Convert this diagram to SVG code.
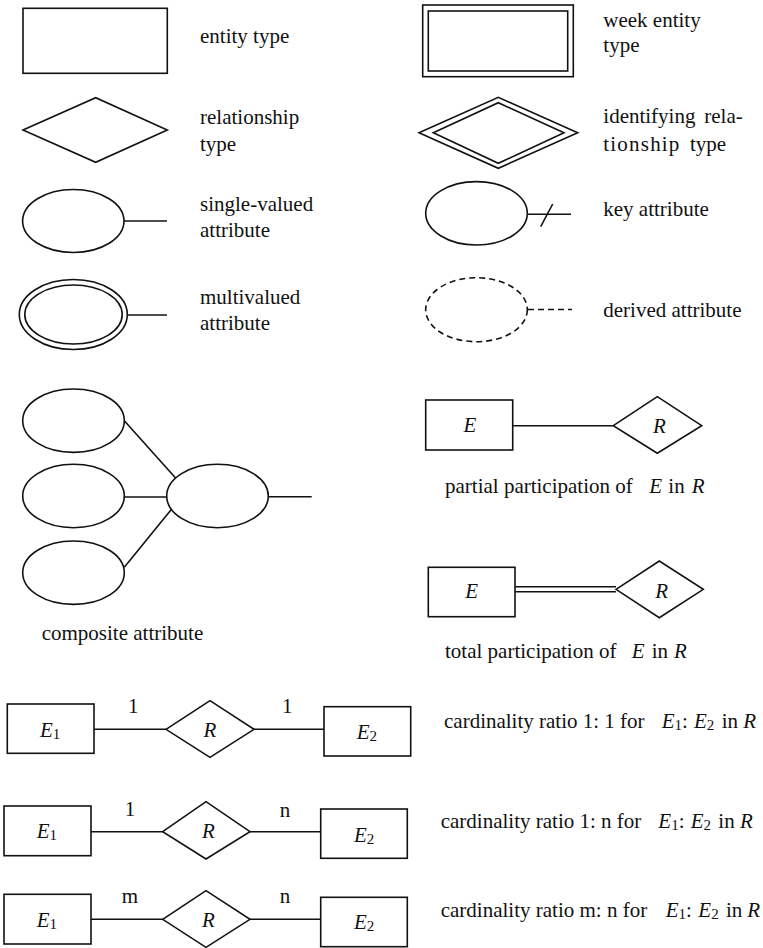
<svg xmlns="http://www.w3.org/2000/svg" width="763" height="948" viewBox="0 0 763 948">
<style>
.s{fill:none;stroke:#111;stroke-width:1.6}
.w{fill:#fff;stroke:#111;stroke-width:1.6}
.d{fill:none;stroke:#111;stroke-width:1.6;stroke-dasharray:6 4}
text{font-family:"Liberation Serif","Times New Roman",serif;font-size:21px;fill:#111}
.i{font-style:italic}
.sub{font-size:15px;font-style:normal}
.c{text-anchor:middle}
</style>
<rect width="763" height="948" fill="#fff"/>
<g id="connectors">
<line class="s" x1="124" y1="221" x2="167" y2="221"/>
<line class="s" x1="127" y1="315" x2="167" y2="315"/>
<line class="s" x1="527" y1="214.3" x2="571" y2="214.3"/>
<line class="s" x1="540.7" y1="226.7" x2="552.7" y2="204"/>
<line class="d" x1="528" y1="309.5" x2="572" y2="309.5"/>
<line class="s" x1="124.3" y1="420.7" x2="176.7" y2="479.3"/>
<line class="s" x1="124.3" y1="497" x2="166.7" y2="497"/>
<line class="s" x1="124.3" y1="567.3" x2="171.7" y2="509"/>
<line class="s" x1="268.3" y1="496.7" x2="311.7" y2="496.7"/>
<line class="s" x1="512.7" y1="425.7" x2="613.3" y2="425.7"/>
<line class="s" x1="515" y1="586.7" x2="616" y2="586.7"/>
<line class="s" x1="515" y1="591.7" x2="616" y2="591.7"/>
<line class="s" x1="94" y1="729.3" x2="166" y2="729.3"/>
<line class="s" x1="254" y1="729.3" x2="324" y2="729.3"/>
<line class="s" x1="91" y1="831.7" x2="162.7" y2="831.7"/>
<line class="s" x1="250" y1="831.7" x2="320.7" y2="831.7"/>
<line class="s" x1="91" y1="919.3" x2="162.7" y2="919.3"/>
<line class="s" x1="250" y1="919.3" x2="320.7" y2="919.3"/>
</g>
<g id="legend-entity">
<rect class="w" x="23" y="8.3" width="144.3" height="65"/>
<text x="200" y="43.3">entity type</text>
</g>
<g id="legend-relationship">
<polygon class="w" points="23,130 95.7,97.7 167.3,130 95.7,162.3"/>
<text x="200" y="124">relationship</text>
<text x="200" y="150.7">type</text>
</g>
<g id="legend-single">
<ellipse class="w" cx="73.3" cy="221" rx="50.7" ry="31.5"/>
<text x="200" y="211">single-valued</text>
<text x="200" y="237">attribute</text>
</g>
<g id="legend-multi">
<ellipse class="w" cx="73.3" cy="314.5" rx="54" ry="35"/>
<ellipse class="s" cx="73.5" cy="314.5" rx="48.7" ry="29.5"/>
<text x="200" y="304">multivalued</text>
<text x="200" y="330">attribute</text>
</g>
<g id="legend-weak">
<rect class="w" x="422.7" y="5" width="150.6" height="71.7"/>
<rect class="s" x="428.3" y="11" width="139.4" height="60"/>
<text x="603.3" y="26.7">week entity</text>
<text x="603.3" y="52.3">type</text>
</g>
<g id="legend-identifying">
<polygon class="w" points="419,132.7 498.3,97.3 577.7,132.7 498.3,168.3"/>
<polygon class="s" points="433.3,132.7 498.3,102.7 564,132.7 498.3,163.3"/>
<text x="603.3" y="123.3">identifying</text>
<text x="704.3" y="123.3">rela-</text>
<text x="603.3" y="150.7" letter-spacing="1.2">tionship</text>
<text x="690" y="150.7">type</text>
</g>
<g id="legend-key">
<ellipse class="w" cx="476.5" cy="213.3" rx="50.8" ry="31.7"/>
<text x="603.3" y="216">key attribute</text>
</g>
<g id="legend-derived">
<ellipse class="d" cx="476.5" cy="309.7" rx="50.8" ry="32"/>
<text x="603.3" y="316.7">derived attribute</text>
</g>
<g id="composite-a"><ellipse class="w" cx="73.5" cy="420.7" rx="50.8" ry="31.7"/></g>
<g id="composite-b"><ellipse class="w" cx="73.5" cy="496" rx="50.8" ry="31.7"/></g>
<g id="composite-c"><ellipse class="w" cx="73.5" cy="572.7" rx="50.8" ry="31.7"/></g>
<g id="composite-main">
<ellipse class="w" cx="217.5" cy="496" rx="50.8" ry="31.7"/>
<text x="41.7" y="640">composite attribute</text>
</g>
<g id="partial-E">
<rect class="w" x="425.7" y="400" width="87" height="50"/>
<text class="i c" x="470" y="432.3">E</text>
</g>
<g id="partial-R">
<polygon class="w" points="613.3,425.7 657.3,396.7 701.7,425.7 657.3,453.3"/>
<text class="i c" x="659.3" y="433.3">R</text>
</g>
<g id="partial-label">
<text x="445" y="493.3">partial participation of</text>
<text class="i" x="649.3" y="493.3">E</text>
<text x="668.3" y="493.3">in</text>
<text class="i" x="691.7" y="493.3">R</text>
</g>
<g id="total-E">
<rect class="w" x="428.3" y="567.3" width="86.7" height="49.4"/>
<text class="i c" x="471.7" y="598.3">E</text>
</g>
<g id="total-R">
<polygon class="w" points="616,589.3 659.3,561 703.3,589.3 659.3,617.7"/>
<text class="i c" x="661.7" y="598.3">R</text>
</g>
<g id="total-label">
<text x="445" y="658.3">total participation of</text>
<text class="i" x="631.7" y="658.3">E</text>
<text x="651.7" y="658.3">in</text>
<text class="i" x="674" y="658.3">R</text>
</g>
<g id="r1-E1">
<rect class="w" x="7.3" y="704" width="86.7" height="49.3"/>
<text class="i" x="40" y="736.7">E<tspan class="sub" dy="2">1</tspan></text>
</g>
<g id="r1-R">
<polygon class="w" points="166,729.3 210,700.7 254,729.3 210,757.3"/>
<text class="i c" x="210" y="736.7">R</text>
</g>
<g id="r1-E2">
<rect class="w" x="324" y="706.7" width="86.7" height="49.3"/>
<text class="i" x="356.7" y="739.3">E<tspan class="sub" dy="2">2</tspan></text>
</g>
<g id="r1-labels">
<text class="c" x="133.3" y="713.3">1</text>
<text class="c" x="287.3" y="713.3">1</text>
<text x="444" y="728.3">cardinality ratio 1: 1 for</text>
<text class="i" x="661.7" y="728.3">E<tspan class="sub" dy="2">1</tspan><tspan dy="-2" style="font-style:normal">:</tspan></text>
<text class="i" x="694" y="728.3">E<tspan class="sub" dy="2">2</tspan></text>
<text x="721.7" y="728.3">in</text>
<text class="i" x="743.3" y="728.3">R</text>
</g>
<g id="r2-E1">
<rect class="w" x="4" y="806" width="87" height="49.7"/>
<text class="i" x="36.7" y="838.3">E<tspan class="sub" dy="2">1</tspan></text>
</g>
<g id="r2-R">
<polygon class="w" points="162.7,831.7 206,801.7 250,831.7 206,859"/>
<text class="i c" x="208.3" y="838.3">R</text>
</g>
<g id="r2-E2">
<rect class="w" x="320.7" y="809" width="86.6" height="49.3"/>
<text class="i" x="354" y="841.7">E<tspan class="sub" dy="2">2</tspan></text>
</g>
<g id="r2-labels">
<text class="c" x="130" y="815.7">1</text>
<text class="c" x="285" y="816.7">n</text>
<text x="440.7" y="828.3">cardinality ratio 1: n for</text>
<text class="i" x="658.3" y="828.3">E<tspan class="sub" dy="2">1</tspan><tspan dy="-2" style="font-style:normal">:</tspan></text>
<text class="i" x="690.7" y="828.3">E<tspan class="sub" dy="2">2</tspan></text>
<text x="718.3" y="828.3">in</text>
<text class="i" x="740" y="828.3">R</text>
</g>
<g id="r3-E1">
<rect class="w" x="4" y="894.3" width="87" height="49.7"/>
<text class="i" x="36.7" y="926.7">E<tspan class="sub" dy="2">1</tspan></text>
</g>
<g id="r3-R">
<polygon class="w" points="162.7,919.3 206,890.7 250,919.3 206,947.3"/>
<text class="i c" x="208.3" y="926.7">R</text>
</g>
<g id="r3-E2">
<rect class="w" x="320.7" y="897.3" width="86.6" height="49.4"/>
<text class="i" x="354" y="929.3">E<tspan class="sub" dy="2">2</tspan></text>
</g>
<g id="r3-labels">
<text class="c" x="130" y="903.3">m</text>
<text class="c" x="285" y="903.3">n</text>
<text x="440.7" y="916.7">cardinality ratio m: n for</text>
<text class="i" x="665.7" y="916.7">E<tspan class="sub" dy="2">1</tspan><tspan dy="-2" style="font-style:normal">:</tspan></text>
<text class="i" x="698.3" y="916.7">E<tspan class="sub" dy="2">2</tspan></text>
<text x="726" y="916.7">in</text>
<text class="i" x="747.3" y="916.7">R</text>
</g>
</svg>
